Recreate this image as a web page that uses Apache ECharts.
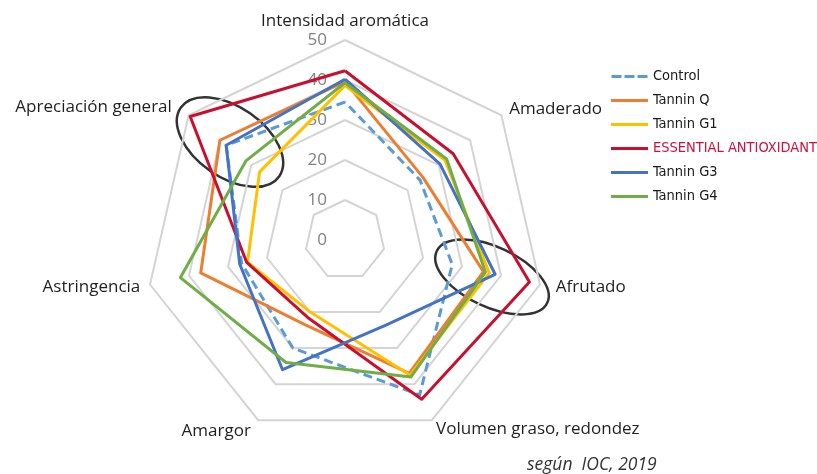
<!DOCTYPE html>
<html>
<head>
<meta charset="utf-8">
<script src="https://cdn.jsdelivr.net/npm/echarts@6/dist/echarts.min.js"></script>
<style>
  html, body { margin: 0; padding: 0; background: #fff; }
  #main { width: 817px; height: 474px; }
</style>
</head>
<body>
<div id="main"></div>
<script>
// ejes en sentido horario, empezando arriba
const ejes = ['Intensidad aromática', 'Amaderado', 'Afrutado', 'Volumen graso, redondez', 'Amargor', 'Astringencia', 'Apreciación general'];
const nombres = ['Control', 'Tannin Q', 'Tannin G1', 'ESSENTIAL ANTIOXIDANT', 'Tannin G3', 'Tannin G4'];
const control   = [34.5, 24,   27.5, 43,   30,   26.5, 38];
const tanninQ   = [39.6, 25,   35.5, 37,   23.4, 37,   40];
const tanninG1  = [38.6, 32,   37,   37.5, 20,   25,   27.3];
const essential = [42.3, 34.6, 47.3, 44.2, 21.5, 25.2, 49.5];
const tanninG3  = [40.2, 30.4, 38.5, 23.6, 36,   27,   38];
const tanninG4  = [39.3, 32.5, 36,   38,   34,   42.2, 31.7];
const escalaMax = 50;
const colores = ['#5B9BD5', '#ED7D31', '#FFC000', '#C8102E', '#4472C4', '#70AD47'];

const valores = [control, tanninQ, tanninG1, essential, tanninG3, tanninG4];

// echarts pone los ejes en sentido antihorario -> reordenar
const orden = [0, 6, 5, 4, 3, 2, 1];
const reordenar = arr => orden.map(i => arr[i]);

const chart = echarts.init(document.getElementById('main'), null, { renderer: 'canvas' });

const indicadores = reordenar(ejes).map((n, i) => {
  const ind = { name: n, min: 0, max: escalaMax };
  if (i === 0) ind.axisLabel = { show: true };
  return ind;
});

// pequeños ajustes de posición de los nombres
const estiloNombre = {
  'Apreciación general': 'izq',
  'Afrutado': 'der',
  'Amargor': 'abajo'
};

const dashIcon = 'path://M0,0H10V3H0Z M13,0H23V3H13Z M26,0H36V3H26Z';

const option = {
  animation: false,
  legend: {
    orient: 'vertical',
    left: 606,
    top: 64,
    itemWidth: 37,
    itemHeight: 3,
    itemGap: 9,
    icon: 'rect',
    textStyle: {
      fontFamily: "'Liberation Sans Narrow', 'DejaVu Sans Condensed', Roboto, sans-serif",
      fontSize: 14.5,
      color: '#1a1a1a'
    },
    data: nombres.map((n, i) => ({
      name: n,
      icon: i === 0 ? dashIcon : 'rect',
      textStyle: i === 3 ? { color: '#D0103A' } : undefined
    }))
  },
  radar: {
    center: [345, 240],
    radius: 200,
    startAngle: 90,
    shape: 'polygon',
    splitNumber: 5,
    nameGap: 10,
    indicator: indicadores,
    axisName: {
      color: '#1f1f1f',
      fontFamily: "'Open Sans', sans-serif",
      fontSize: 17,
      formatter: function (value) {
        const k = estiloNombre[value] || 'n';
        return '{' + k + '|' + value + '}';
      },
      rich: {
        n: {},
        izq: { padding: [0, 9, 3, 0] },
        der: { padding: [0, 0, 0, 6] },
        abajo: { padding: [4, 3, 0, 0] }
      }
    },
    axisLine: { show: false },
    axisTick: { show: false },
    axisLabel: {
      show: false,
      color: '#808080',
      fontSize: 17,
      fontFamily: "'Open Sans', sans-serif",
      margin: 18
    },
    splitLine: { lineStyle: { color: '#d4d4d4', width: 2 } },
    splitArea: { show: false }
  },
  series: [{
    type: 'radar',
    symbol: 'none',
    data: valores.map((v, i) => ({
      name: nombres[i],
      value: reordenar(v),
      lineStyle: {
        color: colores[i],
        width: 3,
        type: i === 0 ? [9, 5] : 'solid'
      },
      itemStyle: { color: colores[i] }
    }))
  }],
  graphic: [
    {
      type: 'ellipse',
      shape: { cx: 0, cy: 0, rx: 60, ry: 35 },
      x: 230, y: 142,
      rotation: -35 * Math.PI / 180,
      style: { fill: 'none', stroke: '#333', lineWidth: 2.5 }
    },
    {
      type: 'ellipse',
      shape: { cx: 0, cy: 0, rx: 61, ry: 30 },
      x: 492, y: 277,
      rotation: -25 * Math.PI / 180,
      style: { fill: 'none', stroke: '#333', lineWidth: 2.5 }
    },
    {
      type: 'text',
      left: 527,
      top: 456,
      style: {
        text: 'según  IOC, 2019',
        font: "italic 17.5px 'Open Sans', sans-serif",
        fill: '#333'
      }
    }
  ]
};

chart.setOption(option);
</script>
</body>
</html>
